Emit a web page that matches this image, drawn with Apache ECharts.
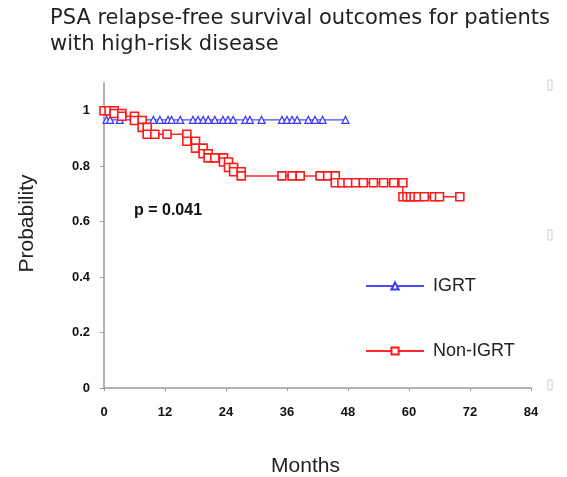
<!DOCTYPE html>
<html>
<head>
<meta charset="utf-8">
<script src="https://cdn.jsdelivr.net/npm/echarts@6/dist/echarts.min.js"></script>
<style>
  html, body { margin: 0; padding: 0; background: #fff; }
  #chart { width: 567px; height: 477px; }
</style>
</head>
<body>
<div id="chart"></div>
<script>
// IGRT arm (blue triangles), steps drawn as doubled points like the source
var igrtMonths = [0, 0.5, 0.5, 1.2, 3.1, 9.7, 11, 12.6, 13.3, 15, 17.5, 18.5, 19.5, 20.5, 21.8, 23.4, 24.4, 25.4, 27.8, 28.7, 31, 35, 36, 37, 38, 40.2, 41.5, 43, 47.5];
var igrtProb   = [1, 1, 0.967, 0.967, 0.967, 0.967, 0.967, 0.967, 0.967, 0.967, 0.967, 0.967, 0.967, 0.967, 0.967, 0.967, 0.967, 0.967, 0.967, 0.967, 0.967, 0.967, 0.967, 0.967, 0.967, 0.967, 0.967, 0.967, 0.967];

// Non-IGRT arm (red squares)
var nonIgrtMonths = [0, 1, 2, 2, 3.5, 3.5, 6, 6, 7.5, 7.5, 8.5, 8.5, 10, 12.4, 16.3, 16.3, 18, 18, 19.5, 19.5, 20.5, 20.5, 21.8, 23.5, 23.5, 24.5, 24.5, 25.5, 25.5, 27, 27, 35, 37, 38.6, 42.5, 44, 45.5, 45.5, 46.8, 48, 49.5, 51, 53, 55, 57, 58.8, 58.8, 59.6, 60.3, 61, 61.8, 63, 65, 66, 70];
var nonIgrtProb   = [1, 1, 1, 0.99, 0.99, 0.98, 0.98, 0.965, 0.965, 0.94, 0.94, 0.915, 0.915, 0.915, 0.915, 0.89, 0.89, 0.865, 0.865, 0.845, 0.845, 0.83, 0.83, 0.83, 0.815, 0.815, 0.795, 0.795, 0.78, 0.78, 0.765, 0.765, 0.765, 0.765, 0.765, 0.765, 0.765, 0.74, 0.74, 0.74, 0.74, 0.74, 0.74, 0.74, 0.74, 0.74, 0.69, 0.69, 0.69, 0.69, 0.69, 0.69, 0.69, 0.69, 0.69];

var xTicks = [0, 12, 24, 36, 48, 60, 72, 84];

function pairs(xs, ys) {
  var out = [];
  xs.forEach(function (v, i) {
    out.push([v, ys[i]]);
  });
  return out;
}

var chart = echarts.init(document.getElementById("chart"));
var axisGray = "#9a9a9a";

var option = {
  backgroundColor: "#fff",
  animation: false,
  title: {
    text: "PSA relapse-free survival outcomes for patients\nwith high-risk disease",
    left: 45,
    top: 1,
    textStyle: {
      fontFamily: "DejaVu Sans",
      fontWeight: "normal",
      fontSize: 21,
      lineHeight: 26,
      color: "#222"
    }
  },
  grid: { left: 104, right: 36, top: 83, bottom: 89, containLabel: false, outerBoundsMode: "none" },
  legend: {
    orient: "vertical",
    left: 360,
    top: 272,
    itemGap: 47,
    itemWidth: 58,
    itemHeight: 9,
    textStyle: { fontFamily: "Liberation Sans", fontSize: 18, color: "#222", padding: [0, 0, 0, 4] },
    data: ["IGRT", "Non-IGRT"]
  },
  xAxis: {
    type: "value",
    min: 0,
    max: 84,
    interval: 12,
    name: "Months",
    nameLocation: "middle",
    nameGap: 68,
    nameTextStyle: { fontFamily: "Liberation Sans", fontSize: 21, color: "#222", padding: [0, 24, 0, 0] },
    axisLine: { lineStyle: { color: axisGray, width: 1.5 } },
    axisTick: { show: true, length: 3, lineStyle: { color: axisGray } },
    axisLabel: {
      margin: 18,
      fontFamily: "Liberation Sans",
      fontWeight: "bold",
      fontSize: 13,
      color: "#111",
      formatter: function (v) {
        return xTicks.indexOf(v) >= 0 ? String(v) : "";
      }
    },
    splitLine: { show: false }
  },
  yAxis: {
    type: "value",
    min: 0,
    max: 1.1,
    interval: 0.2,
    name: "Probability",
    nameLocation: "middle",
    nameRotate: 90,
    nameGap: 66,
    nameTextStyle: { fontFamily: "Liberation Sans", fontSize: 21, color: "#222", padding: [0, 0, 0, 24] },
    axisLine: { show: true, lineStyle: { color: axisGray, width: 1.5 } },
    axisTick: { show: true, length: 4, lineStyle: { color: axisGray } },
    axisLabel: {
      margin: 14,
      showMaxLabel: false,
      fontFamily: "Liberation Sans",
      fontWeight: "bold",
      fontSize: 13,
      color: "#111",
      formatter: function (v) {
        return v > 1.05 ? "" : String(Math.round(v * 10) / 10);
      }
    },
    splitLine: { show: false }
  },
  series: [
    {
      name: "IGRT",
      type: "line",
      data: pairs(igrtMonths, igrtProb),
      symbol: "triangle",
      symbolSize: 7,
      showAllSymbol: true,
      lineStyle: { color: "#4d4dff", width: 1.2 },
      itemStyle: { color: "#fff", borderColor: "#3a3aff", borderWidth: 1.2 },
      z: 3
    },
    {
      name: "Non-IGRT",
      type: "line",
      data: pairs(nonIgrtMonths, nonIgrtProb),
      symbol: "rect",
      symbolSize: 8,
      showAllSymbol: true,
      lineStyle: { color: "#ff2a2a", width: 1.5 },
      itemStyle: { color: "#fff", borderColor: "#ff1a1a", borderWidth: 1.6 },
      z: 4
    }
  ],
  graphic: [
    {
      type: "text",
      left: 134,
      top: 203,
      style: {
        text: "p = 0.041",
        font: "bold 16px 'Liberation Sans'",
        fill: "#111"
      }
    },
    { type: "rect", shape: { x: 548, y: 80, width: 4, height: 10 }, style: { fill: "none", stroke: "#ccc", lineWidth: 1 } },
    { type: "rect", shape: { x: 548, y: 230, width: 4, height: 10 }, style: { fill: "none", stroke: "#ccc", lineWidth: 1 } },
    { type: "rect", shape: { x: 548, y: 380, width: 4, height: 10 }, style: { fill: "none", stroke: "#ccc", lineWidth: 1 } }
  ]
};

chart.setOption(option);
window.addEventListener("resize", chart.resize);
</script>
</body>
</html>
